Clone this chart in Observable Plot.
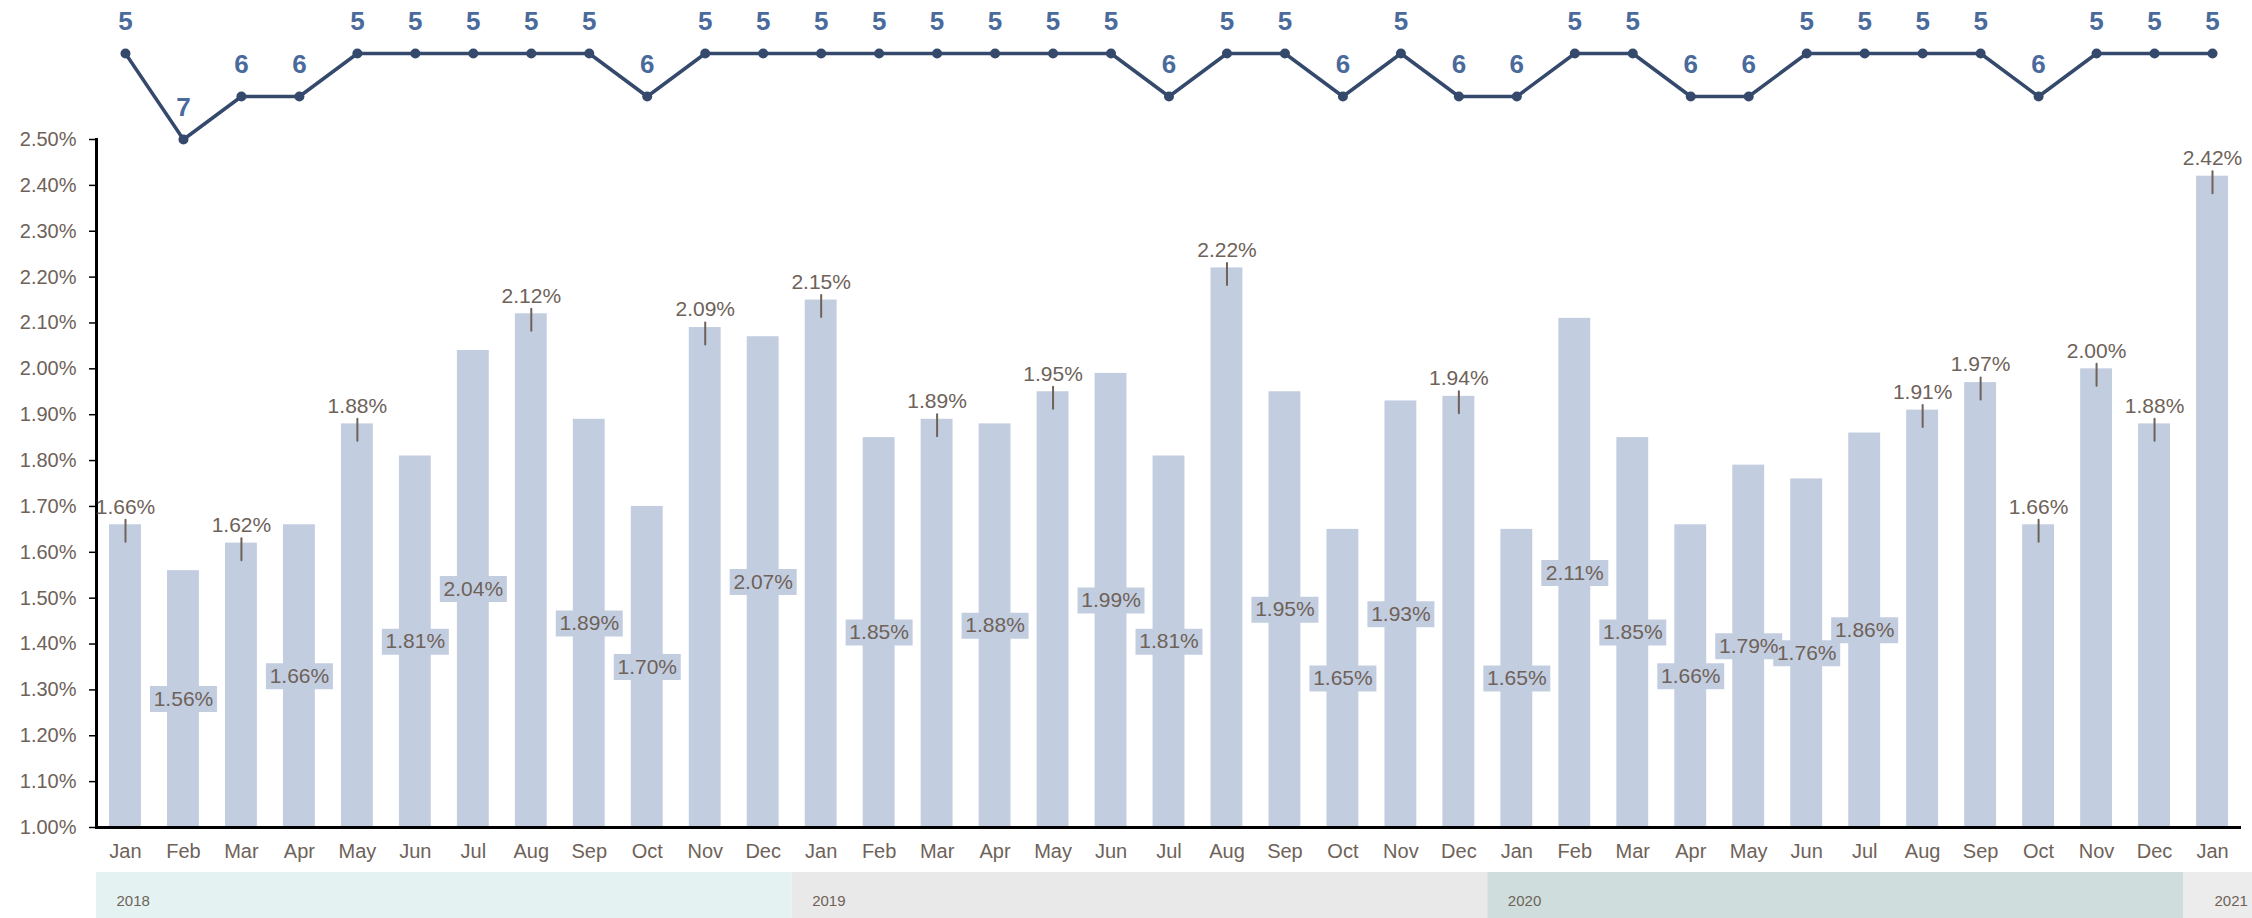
<!DOCTYPE html>
<html><head><meta charset="utf-8">
<script src="https://cdn.jsdelivr.net/npm/d3@7"></script>
<script src="https://cdn.jsdelivr.net/npm/@observablehq/plot@0.6"></script>
<style>
html,body{margin:0;padding:0;background:#fff;overflow:hidden;}
#wrap{position:relative;width:2252px;height:918px;overflow:hidden;}
#bars,#years{display:block;line-height:0;}
#rank{position:absolute;left:0;top:0;pointer-events:none;}
</style></head>
<body><div id="wrap"><div id="bars"></div><div id="years"></div><div id="rank"></div></div>
<script>
const periods = [
  "Jan 2018","Feb 2018","Mar 2018","Apr 2018","May 2018","Jun 2018","Jul 2018","Aug 2018","Sep 2018","Oct 2018","Nov 2018","Dec 2018",
  "Jan 2019","Feb 2019","Mar 2019","Apr 2019","May 2019","Jun 2019","Jul 2019","Aug 2019","Sep 2019","Oct 2019","Nov 2019","Dec 2019",
  "Jan 2020","Feb 2020","Mar 2020","Apr 2020","May 2020","Jun 2020","Jul 2020","Aug 2020","Sep 2020","Oct 2020","Nov 2020","Dec 2020",
  "Jan 2021"
];
const values = [
  1.66,1.56,1.62,1.66,1.88,1.81,2.04,2.12,1.89,1.70,2.09,2.07,
  2.15,1.85,1.89,1.88,1.95,1.99,1.81,2.22,1.95,1.65,1.93,1.94,
  1.65,2.11,1.85,1.66,1.79,1.76,1.86,1.91,1.97,1.66,2.00,1.88,
  2.42
];
const ranks = [
  5,7,6,6,5,5,5,5,5,6,5,5,
  5,5,5,5,5,5,6,5,5,6,5,6,
  6,5,5,6,6,5,5,5,5,6,5,5,
  5
];
// periods whose value label sits above the bar (others sit inside the bar)
const labelAbovePeriods = [
  "Jan 2018","Mar 2018","May 2018","Aug 2018","Nov 2018",
  "Jan 2019","Mar 2019","May 2019","Aug 2019","Dec 2019",
  "Aug 2020","Sep 2020","Oct 2020","Nov 2020","Dec 2020","Jan 2021"
];
const yTicks = [1.0,1.1,1.2,1.3,1.4,1.5,1.6,1.7,1.8,1.9,2.0,2.1,2.2,2.3,2.4,2.5];
const years = ["2018","2019","2020","2021"];
const yearColors = ["#e4f2f2","#e9e9e9","#cfdedd","#ececec"];

const barColor = "#c3cde0";
const textColor = "#6e6259";
const font = "'Liberation Sans', Arial, sans-serif";

const data = periods.map((p, i) => ({period: p, value: values[i], rank: ranks[i], above: labelAbovePeriods.includes(p)}));
const above = data.filter(d => d.above);
const inside = data.filter(d => !d.above);
const fmt = d => d.value.toFixed(2) + "%";
const baseValue = yTicks[0];

const xScale = {type: "band", domain: periods, paddingInner: 0.45, paddingOuter: 0.225};
const W = 2252, ML = 96, MR = 11;

const boxSymbol = {draw(ctx) { ctx.rect(-33.5, -13, 67, 26); }};
const lineShape = {draw(ctx, l) { ctx.moveTo(0, 0); ctx.lineTo(0, -l); }};

const bars = Plot.plot({
  width: W, height: 870,
  marginTop: 139, marginBottom: 43, marginLeft: ML, marginRight: MR,
  style: {fontFamily: font, fontSize: "20px", background: "transparent", color: textColor},
  x: xScale,
  y: {domain: [1, 2.5]},
  marks: [
    Plot.barY(data, {x: "period", y1: baseValue, y2: "value", fill: barColor}),
    Plot.axisY(yTicks, {tickFormat: d => d.toFixed(2) + "%", tickSize: 7, tickPadding: 13, stroke: "black", strokeWidth: 1.5, fill: textColor, fontSize: 20, label: null}),
    Plot.axisX({tickSize: 0, tickPadding: 16, tickFormat: d => d.slice(0, 3), fill: textColor, fontSize: 20, label: null}),
    Plot.ruleY([baseValue], {stroke: "black", strokeWidth: 3}),
    Plot.frame({anchor: "left", stroke: "black", strokeWidth: 3}),
    Plot.dot(inside, {x: "period", y: d => (baseValue + d.value) / 2, symbol: boxSymbol, r: 4, fill: barColor, stroke: "none"}),
    Plot.text(inside, {x: "period", y: d => (baseValue + d.value) / 2, text: fmt, fontSize: 21, fill: textColor}),
    Plot.vector(above, {x: "period", y: "value", length: 22, rotate: 180, anchor: "start", shape: lineShape, stroke: textColor, strokeWidth: 2, dy: -5}),
    Plot.text(above, {x: "period", y: "value", text: fmt, dy: -18, fontSize: 21, fill: textColor})
  ]
});
document.getElementById("bars").append(bars);

const bands = years.map((y, k) => {
  const idx = periods.map((p, i) => p.endsWith(y) ? i : -1).filter(i => i >= 0);
  const last = k === years.length - 1;
  return {year: y, start: idx[0] - 0.5, end: idx[idx.length - 1] + (last ? 1 : 0.5)};
});

const yearsPlot = Plot.plot({
  width: W, height: 48,
  marginTop: 2, marginBottom: 0, marginLeft: ML, marginRight: MR,
  style: {fontFamily: font, fontSize: "15px", background: "transparent", color: textColor},
  x: {domain: [-0.5, periods.length - 0.5], axis: null},
  y: {axis: null},
  color: {domain: years, range: yearColors},
  marks: [
    Plot.rect(bands, {x1: "start", x2: "end", fill: "year"}),
    Plot.text(bands.slice(0, -1), {x: "start", text: "year", textAnchor: "start", dx: 20, dy: 6, fill: textColor, fontSize: 15}),
    Plot.text(bands.slice(-1), {x: "start", text: "year", textAnchor: "start", dx: 31, dy: 6, fill: textColor, fontSize: 15})
  ]
});
document.getElementById("years").append(yearsPlot);

const rankPlot = Plot.plot({
  width: W, height: 160,
  marginTop: 53, marginBottom: 21, marginLeft: ML, marginRight: MR,
  style: {fontFamily: font, background: "transparent"},
  x: {...xScale, axis: null},
  y: {domain: [7, 5], axis: null},
  marks: [
    Plot.line(data, {x: "period", y: "rank", stroke: "#34496b", strokeWidth: 3.5}),
    Plot.dot(data, {x: "period", y: "rank", r: 5, fill: "#34496b"}),
    Plot.text(data, {x: "period", y: "rank", text: "rank", dy: -32, fill: "#4a6a9c", fontWeight: "bold", fontSize: 26})
  ]
});
document.getElementById("rank").append(rankPlot);
</script>
</body></html>
